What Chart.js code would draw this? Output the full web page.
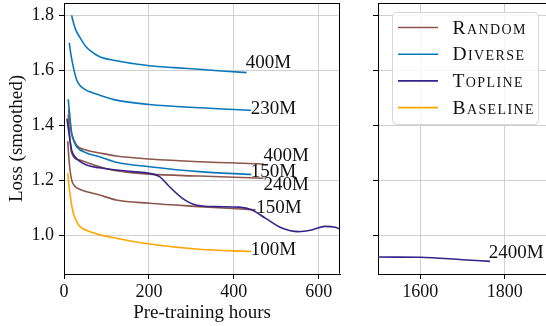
<!DOCTYPE html>
<html>
<head>
<meta charset="utf-8">
<script src="https://cdn.jsdelivr.net/npm/chart.js@4.4.0/dist/chart.umd.min.js"></script>
<style>
  body { margin: 0; width: 546px; height: 326px; overflow: hidden; background: #fff; position: relative; }
  #wrapIzq { position: absolute; left: 0; top: 0; }
  #wrapDer { position: absolute; left: 340px; top: 0; }
</style>
</head>
<body>
<div id="wrapIzq"><canvas id="chartIzq" width="346" height="326"></canvas></div>
<div id="wrapDer"><canvas id="chartDer" width="260" height="326"></canvas></div>
<script>
console.log("entro a la grafica de loss");

// datos (horas de pre-entrenamiento vs loss suavizado)
const diverse400Horas = [18, 22, 27, 37, 50, 61, 84, 120, 162, 201, 260, 318, 380, 430];
const diverse400Loss  = [1.80, 1.775, 1.75, 1.721, 1.69, 1.673, 1.65, 1.636, 1.625, 1.617, 1.61, 1.604, 1.597, 1.592];

const diverse230Horas = [12.5, 16, 22, 30, 37, 50, 61, 84, 123, 201, 318, 441];
const diverse230Loss  = [1.70, 1.66, 1.612, 1.565, 1.546, 1.53, 1.522, 1.51, 1.492, 1.476, 1.464, 1.455];

const diverse150Horas = [10, 14, 18, 24, 30, 53, 84, 123, 201, 318, 441];
const diverse150Loss  = [1.495, 1.43, 1.371, 1.34, 1.322, 1.30, 1.286, 1.266, 1.25, 1.232, 1.222];

const random400Horas = [11, 14, 18, 30, 53, 84, 123, 201, 318, 470];
const random400Loss  = [1.458, 1.41, 1.371, 1.328, 1.31, 1.30, 1.289, 1.278, 1.268, 1.26];

const random240Horas = [10, 13, 18, 37, 84, 123, 201, 318, 470];
const random240Loss  = [1.44, 1.37, 1.30, 1.274, 1.25, 1.235, 1.223, 1.216, 1.208];

const random150Horas = [9, 12, 18, 25, 37, 84, 123, 201, 318, 451];
const random150Loss  = [1.343, 1.27, 1.202, 1.18, 1.168, 1.147, 1.129, 1.117, 1.105, 1.093];

const toplineHoras = [7, 10, 14, 18, 26, 53, 84, 162, 201, 225, 248, 279, 310, 357, 412, 443, 474, 513, 552, 583, 615, 638, 660, 1490, 1600, 1700, 1765];
const toplineLoss  = [1.425, 1.39, 1.347, 1.31, 1.286, 1.256, 1.246, 1.232, 1.226, 1.214, 1.178, 1.135, 1.111, 1.105, 1.103, 1.093, 1.063, 1.027, 1.014, 1.02, 1.033, 1.03, 1.018, 0.922, 0.921, 0.912, 0.906];

const baselineHoras = [9, 11, 14, 18, 22, 30, 37, 61, 123, 201, 318, 441];
const baselineLoss  = [1.226, 1.19, 1.153, 1.11, 1.081, 1.05, 1.033, 1.014, 0.99, 0.969, 0.95, 0.942];

// etiquetas de tamano de modelo (texto, hora, loss)
const etiquetasTexto = ["400M", "230M", "400M", "150M", "240M", "150M", "100M", "2400M"];
const etiquetasHoras = [428, 440, 470, 440, 470, 453, 440, 1762];
const etiquetasLoss  = [1.626, 1.459, 1.29, 1.232, 1.184, 1.099, 0.948, 0.936];

// leyenda y ticks
const nombresLeyenda = ["Random", "Diverse", "Topline", "Baseline"];
const ticksHorasIzq = [0, 200, 400, 600];
const ticksHorasDer = [1600, 1800];
const ticksLoss = [1.0, 1.2, 1.4, 1.6, 1.8];

const colores = {
    Random: "#8c564b",
    Diverse: "#0a77bb",
    Topline: "#35228a",
    Baseline: "#ffa500"
};

const fuente = "'Liberation Serif', 'DejaVu Serif', serif";

function puntos(horas, loss) {
    return horas.map((h, i) => ({ x: h, y: loss[i] }));
}

function serie(nombre, horas, loss) {
    return {
        label: nombre,
        data: puntos(horas, loss),
        borderColor: colores[nombre],
        borderWidth: 1.6,
        pointRadius: 0,
        fill: false,
        cubicInterpolationMode: "monotone"
    };
}

function crearDatasets() {
    return [
        serie("Topline", toplineHoras, toplineLoss),
        serie("Diverse", diverse400Horas, diverse400Loss),
        serie("Diverse", diverse230Horas, diverse230Loss),
        serie("Diverse", diverse150Horas, diverse150Loss),
        serie("Random", random400Horas, random400Loss),
        serie("Random", random240Horas, random240Loss),
        serie("Random", random150Horas, random150Loss),
        serie("Baseline", baselineHoras, baselineLoss)
    ];
}

// bordes de la caja (arriba / derecha)
const bordes = {
    id: "bordes",
    afterDraw(chart, args, opts) {
        const ctx = chart.ctx;
        const a = chart.chartArea;
        const l = Math.round(a.left) + 0.5, r = Math.round(a.right) - 0.5;
        const t = Math.round(a.top) + 0.5, b = Math.round(a.bottom) - 0.5;
        ctx.save();
        ctx.strokeStyle = "#000";
        ctx.lineWidth = 1;
        ctx.beginPath();
        ctx.moveTo(l, t); ctx.lineTo(r + 0.5, t);
        if (opts.derecha) { ctx.moveTo(r, t); ctx.lineTo(r, b); }
        ctx.stroke();
        ctx.restore();
    }
};

// textos de tamano junto a cada curva
const etiquetas = {
    id: "etiquetas",
    afterDatasetsDraw(chart) {
        const ctx = chart.ctx;
        const xs = chart.scales.x, ys = chart.scales.y;
        ctx.save();
        ctx.font = "19px " + fuente;
        ctx.fillStyle = "#111";
        ctx.textAlign = "left";
        ctx.textBaseline = "middle";
        etiquetasTexto.forEach((txt, i) => {
            if (etiquetasHoras[i] < xs.min || etiquetasHoras[i] > xs.max) return;
            ctx.fillText(txt, xs.getPixelForValue(etiquetasHoras[i]), ys.getPixelForValue(etiquetasLoss[i]));
        });
        ctx.restore();
    }
};

// leyenda dibujada a mano (versalitas)
const leyenda = {
    id: "leyenda",
    afterDraw(chart) {
        const ctx = chart.ctx;
        const x0 = 52.5, y0 = 12.5, w = 146, h = 112;
        ctx.save();
        ctx.fillStyle = "rgba(255,255,255,0.8)";
        ctx.strokeStyle = "#d6d6d6";
        ctx.lineWidth = 1;
        ctx.beginPath();
        ctx.roundRect(x0, y0, w, h, 4);
        ctx.fill();
        ctx.stroke();
        ctx.font = "19.5px " + fuente;
        ctx.fontVariantCaps = "small-caps";
        ctx.letterSpacing = "1.4px";
        ctx.textBaseline = "middle";
        ctx.fillStyle = "#111";
        nombresLeyenda.forEach((nombre, i) => {
            const y = 27.5 + i * 26.7;
            ctx.strokeStyle = colores[nombre];
            ctx.lineWidth = 1.6;
            ctx.beginPath();
            ctx.moveTo(58, y);
            ctx.lineTo(98, y);
            ctx.stroke();
            ctx.fillText(nombre, 112.5, y + 1);
        });
        ctx.restore();
    }
};

function fijarTicks(valores) {
    return function (scale) {
        scale.ticks = valores.map(v => ({ value: v }));
    };
}

function opcionesEscalas(min, max, ticksX, anchoY, etiquetasY) {
    return {
        x: {
            type: "linear",
            min: min,
            max: max,
            afterBuildTicks: fijarTicks(ticksX),
            afterFit: (scale) => {
                scale.height = 52;
                scale.paddingLeft = 0;
                scale.paddingRight = 0;
            },
            grid: { color: "#d0d0d0", lineWidth: 1, tickColor: "#000", tickLength: 5 },
            border: { color: "#000", width: 1 },
            ticks: {
                color: "#111",
                font: { family: fuente, size: 18 },
                padding: 2,
                maxRotation: 0,
                callback: (v) => String(v)
            },
            title: etiquetasY ? { display: true, text: "Pre-training hours", color: "#111", font: { family: fuente, size: 19 }, padding: { top: 0, bottom: 2 } } : { display: false }
        },
        y: {
            type: "linear",
            min: 0.86,
            max: 1.845,
            afterBuildTicks: fijarTicks(ticksLoss),
            afterFit: (scale) => {
                scale.width = anchoY;
                scale.paddingTop = 0;
                scale.paddingBottom = 0;
            },
            grid: { color: "#d0d0d0", lineWidth: 1, tickColor: "#000", tickLength: 5 },
            border: { color: "#000", width: 1 },
            ticks: {
                color: "#111",
                font: { family: fuente, size: 18 },
                padding: 5,
                callback: (v) => etiquetasY ? Number(v).toFixed(1) : ""
            },
            title: etiquetasY ? { display: true, text: "Loss (smoothed)", color: "#111", font: { family: fuente, size: 19 }, padding: { top: 6, bottom: 0 } } : { display: false }
        }
    };
}

const graficaIzq = new Chart(document.getElementById("chartIzq").getContext("2d"), {
    type: "line",
    data: { datasets: crearDatasets() },
    options: {
        responsive: false,
        animation: false,
        layout: { padding: { top: 3, right: 6, left: 0, bottom: 0 } },
        plugins: { legend: { display: false }, tooltip: { enabled: false }, bordes: { derecha: true } },
        scales: opcionesEscalas(0, 650, ticksHorasIzq, 64, true)
    },
    plugins: [bordes, etiquetas]
});

const graficaDer = new Chart(document.getElementById("chartDer").getContext("2d"), {
    type: "line",
    data: { datasets: crearDatasets() },
    options: {
        responsive: false,
        animation: false,
        layout: { padding: { top: 3, right: 53, left: 0, bottom: 0 } },
        plugins: { legend: { display: false }, tooltip: { enabled: false }, bordes: { derecha: false } },
        scales: opcionesEscalas(1500, 1900, ticksHorasDer, 38, false)
    },
    plugins: [bordes, etiquetas, leyenda]
});
</script>
</body>
</html>
